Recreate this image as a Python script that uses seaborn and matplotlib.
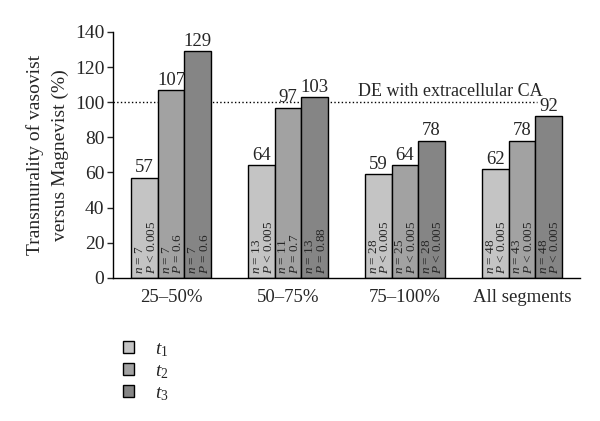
import pandas as pd
import seaborn as sns
import matplotlib.pyplot as plt

sns.set_theme(style='white')
plt.rcParams['font.family'] = ['Liberation Serif', 'DejaVu Serif']
plt.rcParams['mathtext.fontset'] = 'custom'
plt.rcParams['mathtext.rm'] = 'Liberation Serif'
plt.rcParams['mathtext.it'] = 'Liberation Serif:italic'

segments = ['25–50%', '50–75%', '75–100%', 'All segments']
times = ['$t_1$', '$t_2$', '$t_3$']
t1_values = [57, 64, 59, 62]
t2_values = [107, 97, 64, 78]
t3_values = [129, 103, 78, 92]
t1_n = [7, 13, 28, 48]
t2_n = [7, 11, 25, 43]
t3_n = [7, 13, 28, 48]
t1_p = ['< 0.005', '< 0.005', '< 0.005', '< 0.005']
t2_p = ['= 0.6', '= 0.7', '< 0.005', '< 0.005']
t3_p = ['= 0.6', '= 0.88', '< 0.005', '< 0.005']
reference_level = 100
reference_label = 'DE with extracellular CA'


def main():
    df = pd.DataFrame({
        'segment': segments * 3,
        'time': [times[0]] * 4 + [times[1]] * 4 + [times[2]] * 4,
        'value': t1_values + t2_values + t3_values,
    })
    ns = [t1_n, t2_n, t3_n]
    ps = [t1_p, t2_p, t3_p]

    fig = plt.figure(figsize=(6, 4.21), dpi=100)
    ax = fig.add_axes([0.188, 0.34, 0.779, 0.584])

    # reference line first so the bars cover it
    ax.plot([-0.5, 3.13], [reference_level, reference_level], ls=':',
            color='black', lw=1, zorder=0)
    ax.text(1.6, reference_level + 1.2, reference_label, fontsize=13,
            ha='left', va='bottom')

    sns.barplot(data=df, x='segment', y='value', hue='time', ax=ax,
                palette=['#c4c4c4', '#a2a2a2', '#858585'],
                edgecolor='black', linewidth=1, width=0.68, gap=0,
                saturation=1, zorder=2)

    for i, container in enumerate(ax.containers):
        ax.bar_label(container, fontsize=13.5, padding=1)
        for j, bar in enumerate(container):
            x = bar.get_x() + bar.get_width() / 2
            label = '$n$ = %d\n$P$ %s' % (ns[i][j], ps[i][j])
            ax.text(x + 0.01, 2.0, label, rotation=90, fontsize=9.5,
                    ha='center', va='bottom', multialignment='left',
                    linespacing=0.95, zorder=3)

    ax.set_xlim(-0.5, 3.5)
    ax.set_ylim(0, 140)
    ax.set_yticks(range(0, 141, 20))
    ax.set_xlabel('')
    ax.set_ylabel('Transmurality of vasovist\nversus Magnevist (%)',
                  fontsize=14, labelpad=4, linespacing=1.6)
    ax.tick_params(axis='y', direction='out', length=4, width=1,
                   labelsize=14, left=True, pad=2)
    ax.tick_params(axis='x', length=0, labelsize=13.5, pad=8)
    for side in ['top', 'right']:
        ax.spines[side].set_visible(False)
    for side in ['left', 'bottom']:
        ax.spines[side].set_color('black')
        ax.spines[side].set_linewidth(1)

    handles, labels = ax.get_legend_handles_labels()
    ax.legend(handles, labels, loc='upper left',
              bbox_to_anchor=(-0.015, -0.185), frameon=False,
              fontsize=14, handlelength=0.55, handleheight=0.55,
              labelspacing=0.22, handletextpad=1.1)

    plt.savefig('out.png', dpi=100)


if __name__ == '__main__':
    main()
